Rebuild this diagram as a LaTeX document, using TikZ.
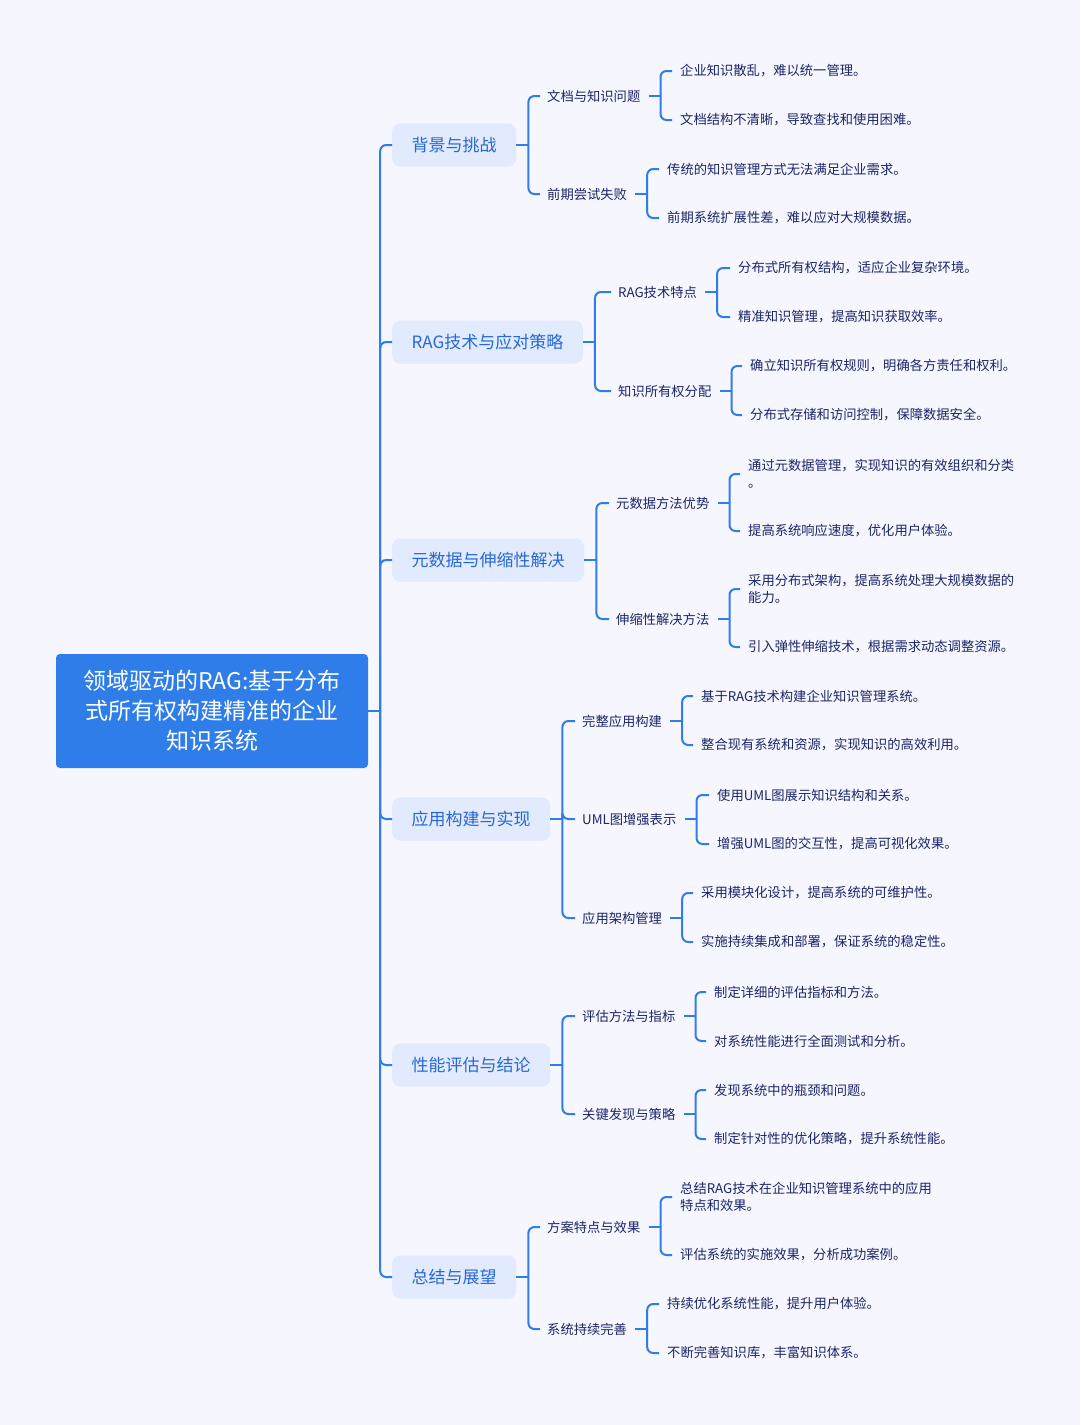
\documentclass[tikz,border=0pt]{standalone}
\usepackage{fontspec}
\setmainfont{Noto Sans CJK SC}
\usepackage{tikz}
\definecolor{bgcol}{RGB}{245,246,254}
\definecolor{linecol}{RGB}{47,125,233}
\definecolor{rootcol}{RGB}{47,125,233}
\definecolor{topicfill}{RGB}{226,234,253}
\definecolor{topictext}{RGB}{38,104,214}
\definecolor{leaftext}{RGB}{28,38,104}
\newlength{\nodegap}
\setlength{\nodegap}{20pt}
\tikzset{root/.style = {shape=rectangle,rounded corners=4pt,fill=rootcol,text=white,minimum width=312pt,minimum height=114pt,align=center,font=\fontsize{23}{30}\selectfont}}
\tikzset{topic/.style = {shape=rectangle,rounded corners=8pt,fill=topicfill,text=topictext,anchor=west,inner xsep=19.5pt,minimum height=43pt,font=\fontsize{17}{20}\selectfont}}
\tikzset{sub/.style = {anchor=west,inner sep=0pt,text=leaftext,font=\fontsize{13.3}{17}\selectfont}}
\tikzset{leaf/.style = {anchor=west,inner sep=0pt,text=leaftext,align=left,font=\fontsize{13.3}{17.5}\selectfont}}
\tikzset{edge/.style = {draw=linecol,line width=2pt,rounded corners=6pt}}
\begin{document}
\begin{tikzpicture}[x=1pt,y=-1pt]
        \fill[bgcol] (0,0) rectangle (1080,1425);
        \useasboundingbox (0,0) rectangle (1080,1425);
        \node[root] (r) at (212,711) {领域驱动的RAG:基于分布\\式所有权构建精准的企业\\知识系统};
        \coordinate (j0) at ([xshift=12]r.east);
        \draw[edge] (r.east) -- (j0);
        \node[topic] (t1) at (392,145) {背景与挑战};
        \draw[edge] (j0) |- (t1.west);
        \node[topic] (t2) at (392,342) {RAG技术与应对策略};
        \draw[edge] (j0) |- (t2.west);
        \node[topic] (t3) at (392,560) {元数据与伸缩性解决};
        \draw[edge] (j0) |- (t3.west);
        \node[topic] (t4) at (392,819) {应用构建与实现};
        \draw[edge] (j0) |- (t4.west);
        \node[topic] (t5) at (392,1065) {性能评估与结论};
        \draw[edge] (j0) |- (t5.west);
        \node[topic] (t6) at (392,1277) {总结与展望};
        \draw[edge] (j0) |- (t6.west);
        \coordinate (b1) at ([xshift=12]t1.east);
        \draw[edge] (t1.east) -- (b1);
        \node[sub] (s11) at (547,96) {文档与知识问题};
        \draw[edge] (b1) |- ([xshift=-7]s11.west);
        \node[sub] (s12) at (547,194) {前期尝试失败};
        \draw[edge] (b1) |- ([xshift=-7]s12.west);
        \coordinate (b11) at ([xshift=\nodegap]s11.east);
        \draw[edge] ([xshift=8]s11.east) -- (b11);
        \node[leaf] (l111) at (680,71) {企业知识散乱，难以统一管理。};
        \draw[edge] (b11) |- ([xshift=-8]l111.west);
        \node[leaf] (l112) at (680,120) {文档结构不清晰，导致查找和使用困难。};
        \draw[edge] (b11) |- ([xshift=-8]l112.west);
        \coordinate (b12) at ([xshift=\nodegap]s12.east);
        \draw[edge] ([xshift=8]s12.east) -- (b12);
        \node[leaf] (l121) at (667,169) {传统的知识管理方式无法满足企业需求。};
        \draw[edge] (b12) |- ([xshift=-8]l121.west);
        \node[leaf] (l122) at (667,218) {前期系统扩展性差，难以应对大规模数据。};
        \draw[edge] (b12) |- ([xshift=-8]l122.west);
        \coordinate (b2) at ([xshift=12]t2.east);
        \draw[edge] (t2.east) -- (b2);
        \node[sub] (s21) at (618,292) {RAG技术特点};
        \draw[edge] (b2) |- ([xshift=-7]s21.west);
        \node[sub] (s22) at (618,391) {知识所有权分配};
        \draw[edge] (b2) |- ([xshift=-7]s22.west);
        \coordinate (b21) at ([xshift=\nodegap]s21.east);
        \draw[edge] ([xshift=8]s21.east) -- (b21);
        \node[leaf] (l211) at (738,268) {分布式所有权结构，适应企业复杂环境。};
        \draw[edge] (b21) |- ([xshift=-8]l211.west);
        \node[leaf] (l212) at (738,317) {精准知识管理，提高知识获取效率。};
        \draw[edge] (b21) |- ([xshift=-8]l212.west);
        \coordinate (b22) at ([xshift=\nodegap]s22.east);
        \draw[edge] ([xshift=8]s22.east) -- (b22);
        \node[leaf] (l221) at (750,366) {确立知识所有权规则，明确各方责任和权利。};
        \draw[edge] (b22) |- ([xshift=-8]l221.west);
        \node[leaf] (l222) at (750,415) {分布式存储和访问控制，保障数据安全。};
        \draw[edge] (b22) |- ([xshift=-8]l222.west);
        \coordinate (b3) at ([xshift=12]t3.east);
        \draw[edge] (t3.east) -- (b3);
        \node[sub] (s31) at (616,503) {元数据方法优势};
        \draw[edge] (b3) |- ([xshift=-7]s31.west);
        \node[sub] (s32) at (616,619) {伸缩性解决方法};
        \draw[edge] (b3) |- ([xshift=-7]s32.west);
        \coordinate (b31) at ([xshift=\nodegap]s31.east);
        \draw[edge] ([xshift=8]s31.east) -- (b31);
        \node[leaf] (l311) at (748,474) {通过元数据管理，实现知识的有效组织和分类\\。};
        \draw[edge] (b31) |- ([xshift=-8]l311.west);
        \node[leaf] (l312) at (748,531) {提高系统响应速度，优化用户体验。};
        \draw[edge] (b31) |- ([xshift=-8]l312.west);
        \coordinate (b32) at ([xshift=\nodegap]s32.east);
        \draw[edge] ([xshift=8]s32.east) -- (b32);
        \node[leaf] (l321) at (748,589) {采用分布式架构，提高系统处理大规模数据的\\能力。};
        \draw[edge] (b32) |- ([xshift=-8]l321.west);
        \node[leaf] (l322) at (748,647) {引入弹性伸缩技术，根据需求动态调整资源。};
        \draw[edge] (b32) |- ([xshift=-8]l322.west);
        \coordinate (b4) at ([xshift=12]t4.east);
        \draw[edge] (t4.east) -- (b4);
        \node[sub] (s41) at (582,721) {完整应用构建};
        \draw[edge] (b4) |- ([xshift=-7]s41.west);
        \node[sub] (s42) at (582,819) {UML图增强表示};
        \draw[edge] (b4) |- ([xshift=-7]s42.west);
        \node[sub] (s43) at (582,918) {应用架构管理};
        \draw[edge] (b4) |- ([xshift=-7]s43.west);
        \coordinate (b41) at ([xshift=\nodegap]s41.east);
        \draw[edge] ([xshift=8]s41.east) -- (b41);
        \node[leaf] (l411) at (701,696) {基于RAG技术构建企业知识管理系统。};
        \draw[edge] (b41) |- ([xshift=-8]l411.west);
        \node[leaf] (l412) at (701,745) {整合现有系统和资源，实现知识的高效利用。};
        \draw[edge] (b41) |- ([xshift=-8]l412.west);
        \coordinate (b42) at ([xshift=\nodegap]s42.east);
        \draw[edge] ([xshift=8]s42.east) -- (b42);
        \node[leaf] (l421) at (717,795) {使用UML图展示知识结构和关系。};
        \draw[edge] (b42) |- ([xshift=-8]l421.west);
        \node[leaf] (l422) at (717,844) {增强UML图的交互性，提高可视化效果。};
        \draw[edge] (b42) |- ([xshift=-8]l422.west);
        \coordinate (b43) at ([xshift=\nodegap]s43.east);
        \draw[edge] ([xshift=8]s43.east) -- (b43);
        \node[leaf] (l431) at (701,893) {采用模块化设计，提高系统的可维护性。};
        \draw[edge] (b43) |- ([xshift=-8]l431.west);
        \node[leaf] (l432) at (701,942) {实施持续集成和部署，保证系统的稳定性。};
        \draw[edge] (b43) |- ([xshift=-8]l432.west);
        \coordinate (b5) at ([xshift=12]t5.east);
        \draw[edge] (t5.east) -- (b5);
        \node[sub] (s51) at (582,1016) {评估方法与指标};
        \draw[edge] (b5) |- ([xshift=-7]s51.west);
        \node[sub] (s52) at (582,1114) {关键发现与策略};
        \draw[edge] (b5) |- ([xshift=-7]s52.west);
        \coordinate (b51) at ([xshift=\nodegap]s51.east);
        \draw[edge] ([xshift=8]s51.east) -- (b51);
        \node[leaf] (l511) at (714,992) {制定详细的评估指标和方法。};
        \draw[edge] (b51) |- ([xshift=-8]l511.west);
        \node[leaf] (l512) at (714,1041) {对系统性能进行全面测试和分析。};
        \draw[edge] (b51) |- ([xshift=-8]l512.west);
        \coordinate (b52) at ([xshift=\nodegap]s52.east);
        \draw[edge] ([xshift=8]s52.east) -- (b52);
        \node[leaf] (l521) at (714,1090) {发现系统中的瓶颈和问题。};
        \draw[edge] (b52) |- ([xshift=-8]l521.west);
        \node[leaf] (l522) at (714,1139) {制定针对性的优化策略，提升系统性能。};
        \draw[edge] (b52) |- ([xshift=-8]l522.west);
        \coordinate (b6) at ([xshift=12]t6.east);
        \draw[edge] (t6.east) -- (b6);
        \node[sub] (s61) at (547,1227) {方案特点与效果};
        \draw[edge] (b6) |- ([xshift=-7]s61.west);
        \node[sub] (s62) at (547,1329) {系统持续完善};
        \draw[edge] (b6) |- ([xshift=-7]s62.west);
        \coordinate (b61) at ([xshift=\nodegap]s61.east);
        \draw[edge] ([xshift=8]s61.east) -- (b61);
        \node[leaf] (l611) at (680,1197) {总结RAG技术在企业知识管理系统中的应用\\特点和效果。};
        \draw[edge] (b61) |- ([xshift=-8]l611.west);
        \node[leaf] (l612) at (680,1255) {评估系统的实施效果，分析成功案例。};
        \draw[edge] (b61) |- ([xshift=-8]l612.west);
        \coordinate (b62) at ([xshift=\nodegap]s62.east);
        \draw[edge] ([xshift=8]s62.east) -- (b62);
        \node[leaf] (l621) at (667,1304) {持续优化系统性能，提升用户体验。};
        \draw[edge] (b62) |- ([xshift=-8]l621.west);
        \node[leaf] (l622) at (667,1353) {不断完善知识库，丰富知识体系。};
        \draw[edge] (b62) |- ([xshift=-8]l622.west);
    \end{tikzpicture}
\end{document}
